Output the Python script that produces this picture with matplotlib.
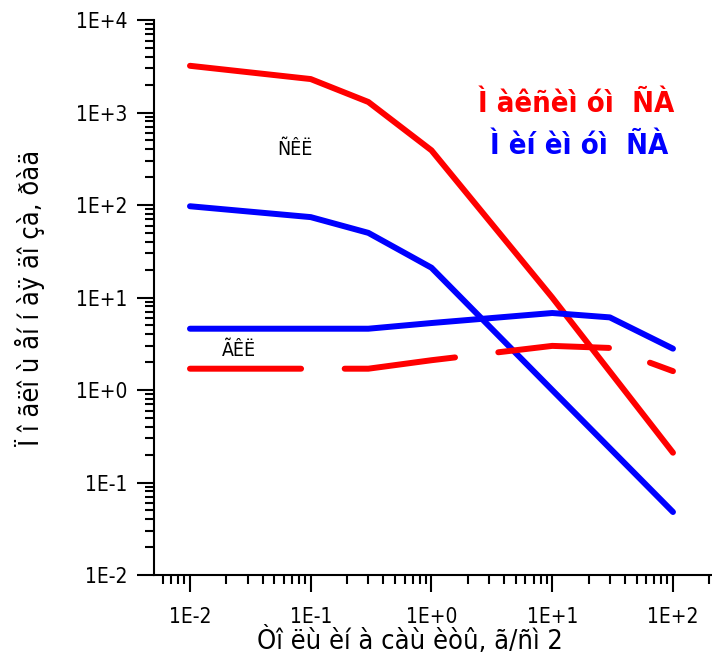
import matplotlib
matplotlib.use("Agg")
import matplotlib.pyplot as plt
from matplotlib.ticker import FuncFormatter, NullFormatter
import numpy as np

# thickness of shielding, g/cm2
thick_skl = [0.01, 0.1, 0.3, 1, 10, 100]
thick_gkl = [0.01, 0.1, 0.3, 1, 10, 30, 100]

# absorbed dose, rad
skl_max = [3200, 2300, 1300, 390, 10, 0.21]
skl_min = [97, 74, 50, 21, 1.0, 0.048]
gkl_max = [1.7, 1.7, 1.7, 2.1, 3.0, 2.85, 1.6]
gkl_min = [4.6, 4.6, 4.6, 5.3, 6.8, 6.1, 2.8]

xlabel = "Òî ëù èí à càù èòû, ã/ñì 2"
ylabel = "Ï î ãëî ù åí í àÿ äî çà, ðàä"
leg_max = "Ì àêñèì óì  ÑÀ"
leg_min = "Ì èí èì óì  ÑÀ"
lab_skl = "ÑÊË"
lab_gkl = "ÃÊË"

x_decades = [-2, -1, 0, 1, 2]
y_decades = [-2, -1, 0, 1, 2, 3, 4]

plt.rcParams['font.family'] = ['DejaVu Sans']
plt.rcParams['font.stretch'] = 'condensed'

fig = plt.figure(figsize=(7.12, 6.63), dpi=100)
ax = fig.add_axes([0.2163, 0.1327, 0.7823, 0.8371])

lw = 4.3
ax.plot(thick_skl, skl_max, color='#ff0000', lw=lw, solid_capstyle='round', solid_joinstyle='round')
ax.plot(thick_skl, skl_min, color='#0000ff', lw=lw, solid_capstyle='round', solid_joinstyle='round')
ax.plot(thick_gkl, gkl_min, color='#0000ff', lw=lw, solid_capstyle='round', solid_joinstyle='round')
ax.plot(thick_gkl, gkl_max, color='#ff0000', lw=lw, dashes=(18.6, 7.3),
        dash_capstyle='round', dash_joinstyle='round')

ax.set_xscale('log')
ax.set_yscale('log')
xmin, xmax = 10**-2.298, 10**2.315
ymin, ymax = 1e-2, 1e4
ax.set_xlim(xmin, xmax)
ax.set_ylim(ymin, ymax)

# explicit ticks, only inside the visible range
xmaj = [10.0**d for d in x_decades]
ymaj = [10.0**d for d in y_decades]
xmin_t = [m * 10.0**d for d in range(-3, 3) for m in range(2, 10) if xmin <= m * 10.0**d <= xmax]
ymin_t = [m * 10.0**d for d in range(-2, 4) for m in range(2, 10)]
ax.set_xticks(xmaj)
ax.set_yticks(ymaj)
ax.set_xticks(xmin_t, minor=True)
ax.set_yticks(ymin_t, minor=True)

fmt = FuncFormatter(lambda v, p: "1E%+d" % int(round(np.log10(v))))
ax.xaxis.set_major_formatter(fmt)
ax.yaxis.set_major_formatter(fmt)
ax.xaxis.set_minor_formatter(NullFormatter())
ax.yaxis.set_minor_formatter(NullFormatter())

for s in ['top', 'right']:
    ax.spines[s].set_visible(False)
for s in ['left', 'bottom']:
    ax.spines[s].set_linewidth(1.5)

ax.tick_params(which='major', direction='out', length=12, width=1.5, labelsize=15)
ax.tick_params(which='minor', direction='out', length=6.5, width=1.5)
ax.tick_params(axis='x', which='major', pad=11)
ax.tick_params(axis='y', which='major', pad=7)

ax.set_xlabel(xlabel, fontsize=19.5)
ax.set_ylabel(ylabel, fontsize=19.5)
ax.xaxis.set_label_coords(0.46, -0.094)
ax.yaxis.set_label_coords(-0.196, 0.499)

ax.text(0.757, 0.848, leg_max, transform=ax.transAxes, color='#ff0000',
        fontsize=21, fontweight='bold', ha='center', va='center')
ax.text(0.764, 0.773, leg_min, transform=ax.transAxes, color='#0000ff',
        fontsize=21, fontweight='bold', ha='center', va='center')
ax.text(0.253, 0.766, lab_skl, transform=ax.transAxes, fontsize=14,
        ha='center', va='center')
ax.text(0.152, 0.405, lab_gkl, transform=ax.transAxes, fontsize=14,
        ha='center', va='center')

fig.savefig("out.png", dpi=100)
